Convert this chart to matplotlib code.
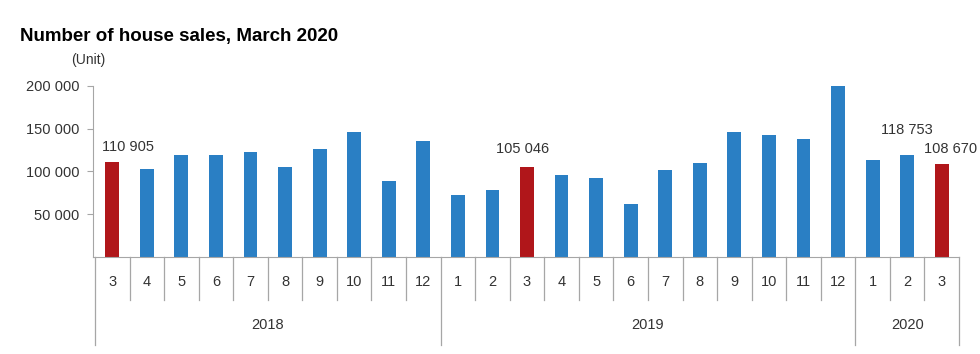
import numpy as np
import matplotlib
matplotlib.use("Agg")
import matplotlib.pyplot as plt
from matplotlib.transforms import blended_transform_factory

plt.rcParams["font.family"] = ["Liberation Sans", "DejaVu Sans"]

months = [3, 4, 5, 6, 7, 8, 9, 10, 11, 12,
          1, 2, 3, 4, 5, 6, 7, 8, 9, 10, 11, 12,
          1, 2, 3]
years = ["2018", "2019", "2020"]
year_counts = [10, 12, 3]
sales = [110905, 103000, 119600, 119600, 122700, 105000, 126300, 145900, 88600, 136000,
         72200, 78400, 105046, 95500, 92400, 61500, 102100, 110300, 146400, 142800, 138100, 200400,
         113500, 118753, 108670]
highlight = [0, 12, 24]
labelled = {0: "110 905", 12: "105 046", 23: "118 753", 24: "108 670"}
label_offsets = {0: (11, 6), 12: (-3, 8), 23: (0, 13), 24: (6, 6)}

blue = "#2a7fc4"
red = "#b0161a"
grey = "#a6a6a6"

fig = plt.figure(figsize=(9.8, 3.54), dpi=100)
ax = fig.add_axes([0.0949, 0.2749, 0.8837, 0.4822])

x = np.arange(len(sales))
colors = [red if i in highlight else blue for i in x]
ax.bar(x, sales, width=0.4, color=colors, zorder=2)

for i, txt in labelled.items():
    dx, dy = label_offsets[i]
    ax.annotate(txt, (i, sales[i]), xytext=(dx, dy), textcoords="offset points",
                ha="center", va="bottom", fontsize=10.5, color="#333333")

ax.set_xlim(-0.558, 24.5)
ax.set_ylim(0, 200000)
ax.set_yticks([50000, 100000, 150000, 200000])
ax.set_yticklabels(["50 000", "100 000", "150 000", "200 000"])
ax.tick_params(axis="y", direction="out", length=4, color=grey, labelsize=10.5,
               labelcolor="#333333", pad=6)
ax.set_xticks([])
for s in ["top", "right"]:
    ax.spines[s].set_visible(False)
ax.spines["left"].set_color(grey)
ax.spines["bottom"].set_color(grey)

# category table under the axis
tr = blended_transform_factory(ax.transData, ax.transAxes)
bounds = np.cumsum([0] + year_counts)
for k in range(len(sales) + 1):
    bottom = -0.517 if k in bounds else -0.254
    ax.plot([k - 0.5, k - 0.5], [0, bottom], color=grey, lw=0.9,
            transform=tr, clip_on=False)
for i, m in enumerate(months):
    ax.text(i, -0.146, str(m), transform=tr, ha="center", va="center",
            fontsize=10.5, color="#333333")
for j, yr in enumerate(years):
    mid = (bounds[j] + bounds[j + 1] - 1) / 2
    ax.text(mid, -0.40, yr, transform=tr, ha="center", va="center",
            fontsize=10.5, color="#333333")

fig.text(0.02, 1 - 41 / 354, "Number of house sales, March 2020",
         fontsize=13.5, fontweight="bold", ha="left", va="baseline")
fig.text(0.073, 1 - 64 / 354, "(Unit)", fontsize=10, color="#333333",
         ha="left", va="baseline")

fig.savefig("out.png", dpi=100)
